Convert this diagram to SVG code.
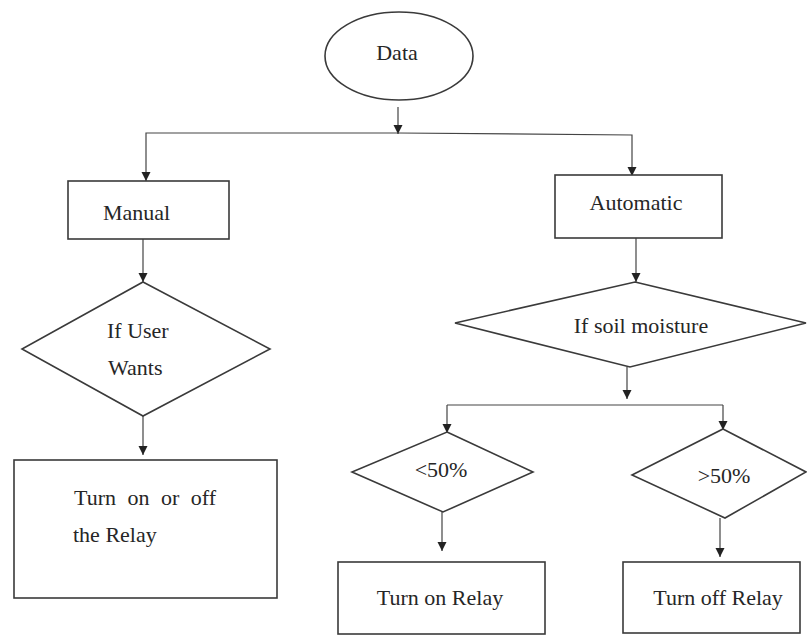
<svg xmlns="http://www.w3.org/2000/svg" width="807" height="636" viewBox="0 0 807 636">
<style>
.shape{fill:#fff;stroke:#3a3a3a;stroke-width:1.6}
.conn{fill:none;stroke:#444;stroke-width:1.2}
text{font-family:'Liberation Serif',Tinos,'Times New Roman',Times,'DejaVu Serif',serif;font-size:22px;fill:#262626}
</style>
<defs>
<marker id="ah" markerUnits="userSpaceOnUse" markerWidth="10" markerHeight="10" refX="9" refY="4.5" orient="auto">
<path d="M0,0 L9,4.5 L0,9 Z" fill="#222"/>
</marker>
</defs>
<rect width="807" height="636" fill="#fff"/>
<g id="connectors">
<path class="conn" d="M398,107 V134" marker-end="url(#ah)"/>
<path class="conn" d="M398,133 H146 V181" marker-end="url(#ah)"/>
<path class="conn" d="M398,133 L632,135 V176" marker-end="url(#ah)"/>
<path class="conn" d="M143,239 V282" marker-end="url(#ah)"/>
<path class="conn" d="M143,416 V455" marker-end="url(#ah)"/>
<path class="conn" d="M636,238 V282" marker-end="url(#ah)"/>
<path class="conn" d="M627,367 V399" marker-end="url(#ah)"/>
<path class="conn" d="M447,405 H723"/>
<path class="conn" d="M447,405 V433" marker-end="url(#ah)"/>
<path class="conn" d="M723,405 V430" marker-end="url(#ah)"/>
<path class="conn" d="M442,512 V551" marker-end="url(#ah)"/>
<path class="conn" d="M720,518 V557" marker-end="url(#ah)"/>
</g>
<g id="data">
<ellipse class="shape" cx="399" cy="56" rx="74" ry="44"/>
<text x="397" y="60" text-anchor="middle">Data</text>
</g>
<g id="manual">
<rect class="shape" x="68" y="181" width="161" height="58"/>
<text x="103" y="220">Manual</text>
</g>
<g id="automatic">
<rect class="shape" x="555" y="175" width="167" height="63"/>
<text x="636" y="210" text-anchor="middle">Automatic</text>
</g>
<g id="if-user-wants">
<polygon class="shape" points="143,282 270,349 143,416 22,349"/>
<text x="107" y="338">If User</text>
<text x="108" y="375">Wants</text>
</g>
<g id="turn-on-off">
<rect class="shape" x="14" y="460" width="263" height="138"/>
<text x="74" y="505" word-spacing="6">Turn on or off</text>
<text x="73" y="542">the Relay</text>
</g>
<g id="soil-moisture">
<polygon class="shape" points="635,282 806,323 630,367 455,323"/>
<text x="641" y="333" text-anchor="middle">If soil moisture</text>
</g>
<g id="lt50">
<polygon class="shape" points="447,432 533,472 443,512 352,472"/>
<text x="441" y="477" text-anchor="middle">&lt;50%</text>
</g>
<g id="gt50">
<polygon class="shape" points="723,429 806,472 725,518 632,475"/>
<text x="724" y="483" text-anchor="middle">&gt;50%</text>
</g>
<g id="turn-on-relay">
<rect class="shape" x="338" y="562" width="207" height="72"/>
<text x="440" y="605" text-anchor="middle">Turn on Relay</text>
</g>
<g id="turn-off-relay">
<rect class="shape" x="623" y="562" width="177" height="71"/>
<text x="718" y="605" text-anchor="middle">Turn off Relay</text>
</g>
</svg>
